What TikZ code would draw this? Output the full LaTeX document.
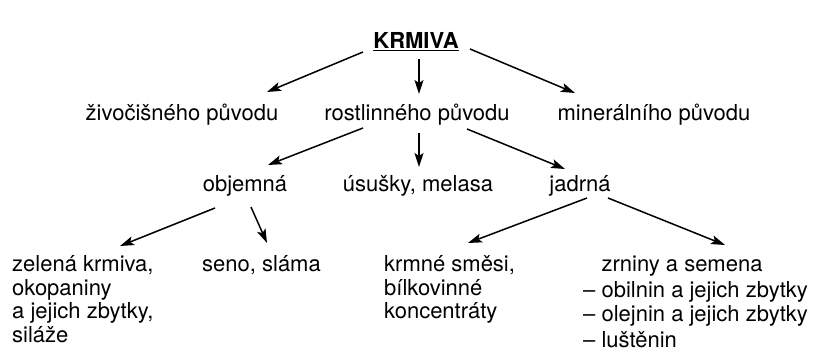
\documentclass[tikz,border=0pt]{standalone}
\usepackage{fontspec}
\setmainfont{TeX Gyre Heros}
\usetikzlibrary{arrows.meta, positioning}
% lines hanging from the first baseline
\newcommand{\colstack}[1]{\begin{tabular}[t]{@{}l@{}}#1\end{tabular}}

\begin{document}
\begin{tikzpicture}[x=1pt, y=-1pt,
    every node/.style={inner sep=0pt, font=\fontsize{22}{23.5}\selectfont},
    lbl/.style={anchor=base},
    col/.style={anchor=base west},
    arr/.style={-{Stealth[length=14pt, width=9pt, inset=3pt]}, line width=1.5pt}]
                \useasboundingbox (0,0) rectangle (826,352);

                % Top
                \node[lbl] (krmiva) at (416,49) {\textbf{\underline{KRMIVA}}};

                % Origin
                \node[lbl] (zivoc) at (182,121) {živočišného původu};
                \node[lbl] (rostl) at (417,121) {rostlinného původu};
                \node[lbl] (miner) at (654,121) {minerálního původu};

                % Plant feeds
                \node[lbl] (objem) at (245,192) {objemná};
                \node[lbl] (usus) at (418,192) {úsušky, melasa};
                \node[lbl] (jadr) at (580,192) {jadrná};

                % Bottom row
                \node[col] (zelen) at (12,272) {\colstack{zelená krmiva,\\okopaniny\\a jejich zbytky,\\siláže}};
                \node[col] (seno) at (202,272) {seno, sláma};
                \node[col] (smesi) at (384,272) {\colstack{krmné směsi,\\bílkovinné\\koncentráty}};
                \node[col] (zrniny) at (583,272) {\colstack{\phantom{– }zrniny a semena\\[1.5pt]– obilnin a jejich zbytky\\[1.5pt]– olejnin a jejich zbytky\\[1.5pt]– luštěnin}};

                \draw[arr] ([shift={(-53,3)}]krmiva.base) -- ([shift={(85,-29)}]zivoc.base);
                \draw[arr] ([shift={(3,10)}]krmiva.base) -- ([shift={(2,-27)}]rostl.base);
                \draw[arr] ([shift={(54,0)}]krmiva.base) -- ([shift={(-79,-28)}]miner.base);

                \draw[arr] ([shift={(-54,7)}]rostl.base) -- ([shift={(23,-27)}]objem.base);
                \draw[arr] ([shift={(2,12)}]rostl.base) -- ([shift={(1,-25)}]usus.base);
                \draw[arr] ([shift={(50,8)}]rostl.base) -- ([shift={(-15,-23)}]jadr.base);

                \draw[arr] ([shift={(-30,16)}]objem.base) -- ([shift={(108,-26)}]zelen.base west);
                \draw[arr] ([shift={(6,15)}]objem.base) -- ([shift={(65,-29)}]seno.base west);

                \draw[arr] ([shift={(7,6)}]jadr.base) -- ([shift={(84,-29)}]smesi.base west);
                \draw[arr] ([shift={(28,6)}]jadr.base) -- ([shift={(142,-27)}]zrniny.base west);
            \end{tikzpicture}
\end{document}
